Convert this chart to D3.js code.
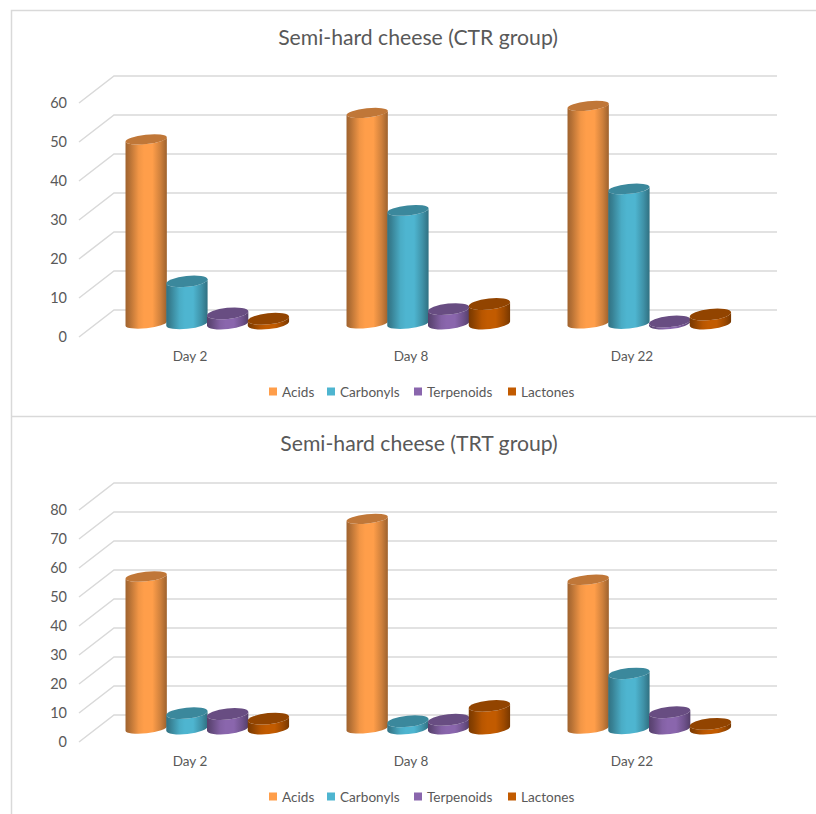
<!DOCTYPE html>
<html>
<head>
<meta charset="utf-8">
<script src="https://cdn.jsdelivr.net/npm/d3@7"></script>
<style>
  html, body { margin: 0; padding: 0; background: #fff; }
  svg { display: block; font-family: Lato, "Open Sans", sans-serif; }
</style>
</head>
<body>
<svg id="chart" width="816" height="814"></svg>
<script>
const days = ["Day 2", "Day 8", "Day 22"];
const seriesNames = ["Acids", "Carbonyls", "Terpenoids", "Lactones"];
const seriesColors = ["#ff9e4a", "#4eb5d0", "#8a66ad", "#c25b00"];
const ctrAcids = [47.2, 54, 55.8];
const ctrCarbonyls = [10.8, 29, 34.5];
const ctrTerpenoids = [2.6, 3.7, 0.5];
const ctrLactones = [1.2, 5, 2.3];
const trtAcids = [52.4, 72.3, 51.3];
const trtCarbonyls = [5.3, 2.5, 19];
const trtTerpenoids = [5, 3, 5.6];
const trtLactones = [3.4, 7.8, 1.6];
const ctrTicks = d3.range(0, 61, 10);
const trtTicks = d3.range(0, 81, 10);

const svg = d3.select("#chart");
const defs = svg.append("defs");

// Horizontal shading that gives each cylinder its rounded look
seriesColors.forEach((c, i) => {
  const g = defs.append("linearGradient").attr("id", "cyl" + i);
  const stops = [[0, d3.color(c).darker(1.3)], [0.1, d3.color(c).darker(0.95)], [0.32, d3.color(c).darker(0.15)],
    [0.45, c], [0.65, c], [0.85, d3.color(c).darker(0.6)], [1, d3.color(c).darker(1.35)]];
  stops.forEach(s => g.append("stop").attr("offset", s[0]).attr("stop-color", s[1]));
});

// Panel frames
const frame = svg.append("g").attr("fill", "none").attr("stroke", "#d9d9d9").attr("stroke-width", 1.5);
frame.append("path").attr("d", "M11.5,814V10.5H816");
frame.append("path").attr("d", "M11.5,416.5H816");

const DEPTH_X = 35, DEPTH_Y = 27;

function drawChart(cfg) {
  const g = svg.append("g");
  const y = d3.scaleLinear().domain([0, cfg.ticks[cfg.ticks.length - 1]]).range([cfg.zeroY, cfg.topY]);
  const x0 = d3.scaleBand().domain(days).range([79, 742]);
  const x1 = d3.scaleBand().domain(seriesNames).range([0, 163]);
  const padLeft = (x0.bandwidth() - 163) / 2;

  g.append("text").attr("x", cfg.titleX).attr("y", cfg.titleY).attr("text-anchor", "middle")
    .attr("font-size", 21.2).attr("fill", "#595959").text(cfg.title);

  // Gridlines on the back wall and the slanted side wall
  const grid = g.append("g").attr("stroke", "#d9d9d9").attr("stroke-width", 1.5).attr("fill", "none");
  cfg.ticks.forEach(t => {
    const yy = y(t);
    grid.append("path").attr("d", `M79,${yy}L${79 + DEPTH_X},${yy - DEPTH_Y}H${742 + DEPTH_X}`);
  });

  // Value labels on the front edge of the side wall
  g.append("g").selectAll("text").data(cfg.ticks).join("text")
    .attr("x", 67).attr("y", d => y(d) + cfg.tickDy).attr("text-anchor", "end")
    .attr("font-size", 14.5).attr("fill", "#595959").text(d => d);

  g.append("g").selectAll("text").data(days).join("text")
    .attr("x", d => x0(d) + x0.bandwidth() / 2 + 0.5).attr("y", cfg.dayY).attr("text-anchor", "middle")
    .attr("font-size", 13.5).attr("fill", "#595959").text(d => d);

  // Cylinders stand mid-way between the front and back of the floor
  const midX = DEPTH_X / 2 + 0.3, midY = -DEPTH_Y / 2;
  const tilt = 6, rx = x1.bandwidth() / 2 + 0.4;
  const rad = tilt * Math.PI / 180;
  seriesNames.forEach((name, si) => {
    cfg.values[si].forEach((v, di) => {
      const cx = x0(days[di]) + padLeft + x1(name) + x1.bandwidth() / 2 + midX;
      const yBase = y(0) + midY, yTop = y(v) + midY;
      const lift = yBase - yTop;
      const ry = 5.6 - 1 * Math.min(1, lift / 200);
      const dx = rx * Math.cos(rad), dy = rx * Math.sin(rad);
      const body = `M${cx - dx},${yTop + dy}L${cx - dx},${yBase + dy}` +
        `A${rx},${ry} ${-tilt} 0 0 ${cx + dx},${yBase - dy}L${cx + dx},${yTop - dy}` +
        `A${rx},${ry} ${-tilt} 0 1 ${cx - dx},${yTop + dy}Z`;
      g.append("path").attr("d", body).attr("fill", `url(#cyl${si})`);
      g.append("ellipse").attr("cx", 0).attr("cy", 0).attr("rx", rx).attr("ry", ry)
        .attr("transform", `translate(${cx},${yTop}) rotate(${-tilt})`)
        .attr("fill", d3.color(seriesColors[si]).darker(0.8));
    });
  });

  // Legend
  const lg = g.append("g");
  cfg.legendX.forEach((lx, i) => {
    lg.append("rect").attr("x", lx).attr("y", cfg.legendY - 9.5).attr("width", 8).attr("height", 8)
      .attr("fill", seriesColors[i]);
    lg.append("text").attr("x", lx + 13).attr("y", cfg.legendY).attr("font-size", 13.6)
      .attr("fill", "#595959").text(seriesNames[i]);
  });
}

drawChart({
  title: "Semi-hard cheese (CTR group)", titleX: 418, titleY: 45, tickDy: 5,
  ticks: ctrTicks, zeroY: 337, topY: 103, dayY: 361,
  values: [ctrAcids, ctrCarbonyls, ctrTerpenoids, ctrLactones],
  legendX: [269, 327, 414, 508], legendY: 397
});
drawChart({
  title: "Semi-hard cheese (TRT group)", titleX: 419, titleY: 451, tickDy: 4.5,
  ticks: trtTicks, zeroY: 742, topY: 510, dayY: 766,
  values: [trtAcids, trtCarbonyls, trtTerpenoids, trtLactones],
  legendX: [269, 327, 414, 508], legendY: 802
});
</script>
</body>
</html>
